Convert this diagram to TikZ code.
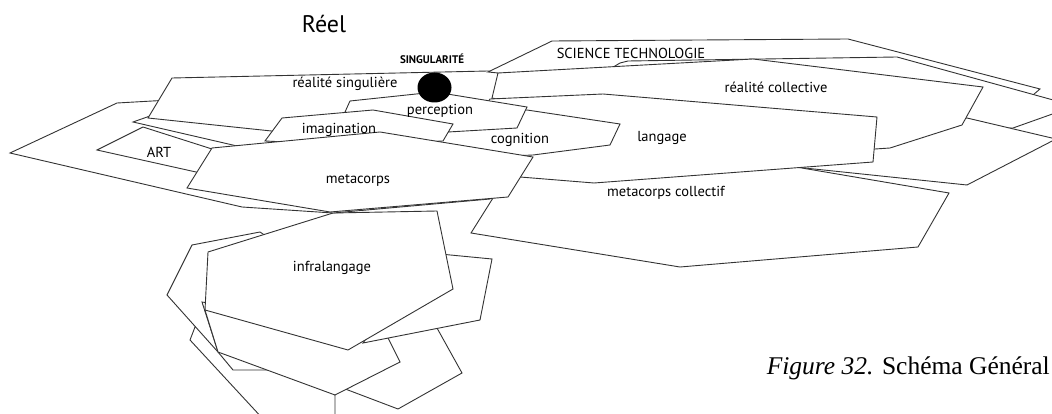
\documentclass[tikz,border=0pt]{standalone}
\usepackage{fontspec}
\setmainfont{Liberation Serif}
\setsansfont{PT Sans}

\tikzset{
  plane/.style={draw=black!80, fill=white, line width=0.9pt, line join=miter},
  lbl/.style={font=\sffamily\fontsize{14.5}{16}\selectfont, inner sep=0pt},
}

\begin{document}
\begin{tikzpicture}[x=1pt,y=-1pt]
\useasboundingbox (0,0) rectangle (1052,414);
\clip (0,0) rectangle (1052,414);
% lower cluster, back to front
\draw[plane] (195,327)--(190,340)--(264,420)--(335,420)--(335,395)--(260,340)--cycle;
\draw[plane] (167,295)--(192,245)--(260,232)--(263,234)--(300,300)--(250,356)--(218,352)--cycle;
\draw[plane] (202,302)--(218,352)--(233,370)--(268,370)--(300,340)--(250,310)--cycle;
\draw[plane] (437,328)--(462,373)--(398,409)--(340,387)--(385,345)--(385,335)--(420,322)--cycle;
\draw[plane] (218,352)--(205,310)--(260,310)--(388,338)--(400,362)--(335,395)--cycle;
\draw[plane] (440,254)--(492,259)--(480,320)--(363,343)--(400,290)--cycle;
\draw[plane] (333,213)--(437,211)--(453,289)--(348,350)--(205,310)--(208,252)--cycle; % infralangage
% upper cluster, back to front
\draw[plane] (10,153)--(117,103)--(170,100)--(300,115)--(505,170)--(490,199)--(333,213)--(242,207)--cycle;
\draw[plane] (133,122)--(150,116)--(300,115)--(300,150)--(237,146)--cycle;
\draw[plane] (97,150)--(143,127)--(212,149)--(230,180)--(196,172)--cycle; % ART
\draw[plane] (172,78)--(488,71)--(510,74)--(500,110)--(300,134)--(148,118)--cycle; % realite singuliere
\draw[plane] (488,72)--(552,41)--(848,39)--(1040,89)--(1033,95)--(1000,100)--(900,80)--(700,75)--(500,80)--(498,73)--cycle; % science
\draw[plane] (600,75)--(620,63)--(628,61)--(897,57)--(1075,106)--(1013,128)--(940,130)--(700,90)--cycle;
\draw[plane] (800,145)--(967,118)--(1056,139)--(967,185)--(795,167)--cycle;
\draw[plane] (498,73)--(753,59)--(983,87)--(962,125)--(890,148)--(860,150)--(700,140)--(492,98)--cycle; % realite collective
\draw[plane] (471,233)--(493,198)--(515,175)--(594,181)--(790,166)--(949,193)--(918,247)--(680,267)--cycle; % metacorps collectif
\draw[plane] (490,99)--(603,94)--(877,117)--(873,162)--(594,183)--(520,177)--(470,130)--cycle; % langage
\draw[plane] (420,120)--(527,110)--(620,124)--(610,145)--(533,155)--(420,160)--cycle; % cognition
\draw[plane] (345,112)--(350,101)--(435,92)--(527,107)--(517,128)--(448,132)--(400,128)--cycle; % perception
\draw[plane] (282,118)--(373,110)--(453,124)--(443,141)--(350,145)--(265,141)--cycle; % imagination
\draw[plane] (212,148)--(380,132)--(533,157)--(508,197)--(330,212)--(187,188)--cycle; % metacorps
\fill[black] (434.5,87.5) ellipse [x radius=17, y radius=15];
% labels
\node[lbl] (rs) at (345,84) {réalité singulière};
\node[font=\sffamily\bfseries\fontsize{11}{12}\selectfont, inner sep=0pt] (sing) at (432,59) {SINGULARITÉ};
\node[lbl] (perc) at (440,111) {perception};
\node[lbl] (imag) at (339,130) {imagination};
\node[lbl] (cogn) at (520,140) {cognition};
\node[lbl] (art) at (159,152) {ART};
\node[lbl] (meta) at (358,180) {metacorps};
\node[lbl] (lang) at (662,138) {langage};
\node[lbl] (rc) at (776,87) {réalité collective};
\node[lbl] (sci) at (631,53) {SCIENCE TECHNOLOGIE};
\node[lbl] (mc) at (666,193) {metacorps collectif};
\node[lbl] (infra) at (332,268) {infralangage};
\node[font=\sffamily\fontsize{24}{26}\selectfont, inner sep=0pt] (reel) at (324,24) {Réel};
\node[font=\fontsize{25.5}{28}\selectfont, inner sep=0pt, anchor=base east] (caption) at (1050,374) {\textit{Figure 32.} Schéma Général};
\end{tikzpicture}
\end{document}
